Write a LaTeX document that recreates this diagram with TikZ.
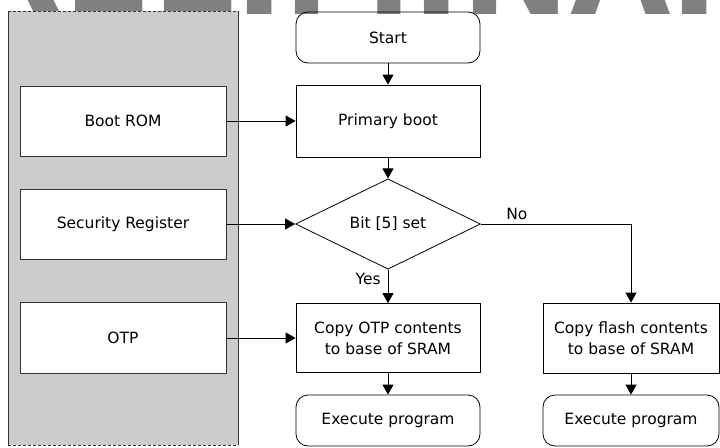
\documentclass[tikz,border=0pt]{standalone}
\usepackage{fontspec}
\setmainfont{DejaVu Sans}
\usepackage{tikz}
\usetikzlibrary{shapes.geometric}
\usetikzlibrary{arrows.meta}
\definecolor{panelgray}{RGB}{204, 204, 204}
\definecolor{markgray}{RGB}{128, 128, 128}
\definecolor{edgegray}{RGB}{51, 51, 51}

\begin{document}
\begin{tikzpicture}[x=1pt, y=-1pt,
    font=\fontsize{15.5}{21}\selectfont,
    every node/.style={inner sep=0pt, align=center},
    flowbox/.style={draw, line width=0.8pt, minimum width=184pt},
    termbox/.style={flowbox, rounded corners=12pt, minimum height=51pt},
    srcbox/.style={draw=edgegray, fill=white, line width=0.8pt, minimum width=206pt, minimum height=70pt},
    decide/.style={draw, diamond, line width=0.8pt, minimum width=185pt, minimum height=85pt},
    flow/.style={line width=0.8pt, -{Triangle[length=10pt, width=11pt]}}]
            \useasboundingbox (0,0) rectangle (720,447);
            % Watermark
            \begin{scope}
            \clip (0,0) rectangle (720,447);
            \node[anchor=base west, text=markgray, font=\fontsize{130}{130}\selectfont\bfseries] (mark) at (-132,14) {PRELIMINARY};
            \end{scope}
            % Memory panel
            \fill[panelgray]                                                  (8,11) rectangle (238,445);
            \draw[edgegray, line width=0.8pt]                                 (8,11) -- (8,445) (238,11) -- (238,445);
            \draw[edgegray, line width=0.8pt, dash pattern=on 3pt off 2pt]    (8,11) -- (238,11) (8,445) -- (238,445);
            \node[srcbox]                                  (bootrom)   at (123,121)   {Boot ROM};
            \node[srcbox]                                  (secreg)    at (123,224)   {Security Register};
            \node[srcbox, minimum height=71pt]             (otp)       at (123,338)   {OTP};
            % Boot flow
            \node[termbox]                                 (start)     at (388,37.5)  {Start};
            \node[flowbox, minimum height=72pt]            (primary)   at (388,121)   {Primary boot};
            \node[decide]                                  (bitset)    at (388,224)   {Bit [5] set};
            \node[flowbox, minimum height=69pt]            (copyotp)   at (388,338)   {Copy OTP contents\\to base of SRAM};
            \node[termbox]                                 (execotp)   at (388,420.5) {Execute program};
            \node[flowbox, minimum width=176pt, minimum height=70pt] (copyflash) at (631,338) {Copy flash contents\\to base of SRAM};
            \node[termbox, minimum width=176pt]            (execflash) at (631,420.5) {Execute program};
            % Connectors
            \draw[flow] (start) -- (primary);
            \draw[flow] (primary) -- (bitset);
            \draw[flow] (bitset) -- node[pos=0.27, left=7pt] {Yes} (copyotp);
            \draw[flow] (bitset.east) -| node[pos=0.12, above=4pt] {No} (copyflash.north);
            \draw[flow] (copyotp) -- (execotp);
            \draw[flow] (copyflash) -- (execflash);
            \draw[flow] (bootrom) -- (primary);
            \draw[flow] (secreg) -- (bitset);
            \draw[flow] (otp) -- (copyotp);
\end{tikzpicture}
\end{document}
